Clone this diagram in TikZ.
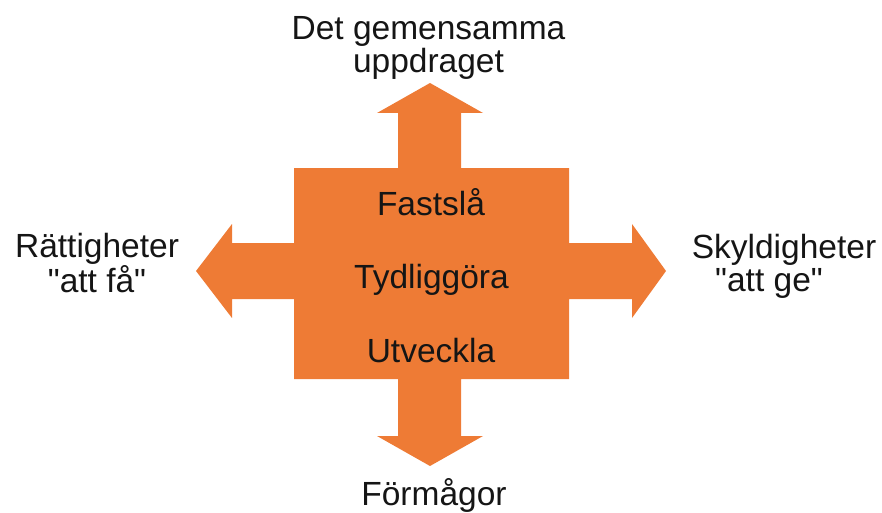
\documentclass[tikz,border=0pt]{standalone}
\usepackage{fontspec}
\setmainfont{Liberation Sans}[Ligatures=TeXOff]
\definecolor{crossorange}{HTML}{EE7B35}
\definecolor{txt}{HTML}{151515}
\begin{document}
\begin{tikzpicture}[x=1pt,y=-1pt,
  lbl/.style={inner sep=0pt, align=center, text=txt, font=\fontsize{33.5}{33}\selectfont},
  inlbl/.style={lbl, anchor=base}]
\useasboundingbox (0,0) rectangle (882,513);
% cross with four arrows
\fill[crossorange]
 (294,168) -- (398,168) -- (398,113) -- (377,113) -- (430,83) -- (483,113) -- (461,113) -- (461,168)
 -- (569,168) -- (569,243) -- (632,243) -- (632,224) -- (666,271) -- (632,318) -- (632,299) -- (569,299)
 -- (569,379) -- (461,379) -- (461,436) -- (483,436) -- (430,466) -- (377,436) -- (398,436) -- (398,379)
 -- (294,379) -- (294,299) -- (232,299) -- (232,318) -- (196,271) -- (232,224) -- (232,243) -- (294,243)
 -- cycle;
% centre texts
\node[inlbl] (fast) at (431,215) {Fastslå};
\node[inlbl] (tyd) at (431.5,288) {Tydliggöra};
\node[inlbl] (utv) at (431,362) {Utveckla};
% outer labels
\node[lbl, anchor=north] (top) at (428.5,16) {Det gemensamma\\uppdraget};
\node[lbl, anchor=north] (left) at (97,233) {Rättigheter\\"att få"};
\node[lbl, anchor=north] (right) at (784,234) {Skyldigheter\\\hspace*{-30pt}"att ge"};
\node[inlbl] (bottom) at (434,505) {Förmågor};
\end{tikzpicture}
\end{document}
